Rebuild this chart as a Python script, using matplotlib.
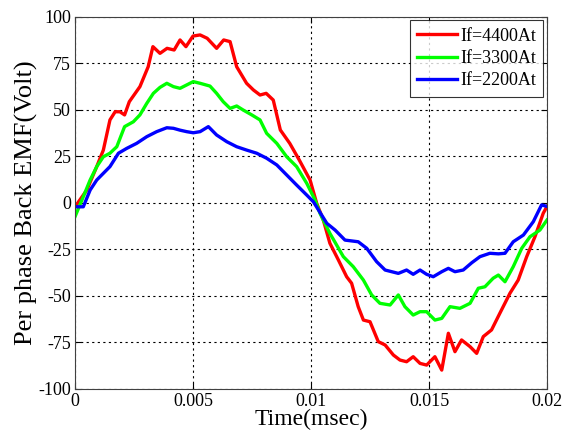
import matplotlib
matplotlib.use("Agg")
import matplotlib.pyplot as plt

plt.rcParams['font.family'] = ['Liberation Serif', 'DejaVu Serif']
plt.rcParams['axes.unicode_minus'] = False

t_4400 = [0.0, 0.0005, 0.00092, 0.0012, 0.00148, 0.0017, 0.0019, 0.0021, 0.0023, 0.00275,
          0.0031, 0.0033, 0.0036, 0.0039, 0.0042, 0.00445, 0.0047, 0.0050, 0.0053, 0.0056,
          0.0060, 0.0063, 0.00657, 0.00685, 0.00727, 0.00756, 0.00784, 0.0081, 0.0084, 0.0087,
          0.0091, 0.0095, 0.00996, 0.01024, 0.01052, 0.0108, 0.01116, 0.01151, 0.01172, 0.0120,
          0.01222, 0.0125, 0.01285, 0.01314, 0.01349, 0.01377, 0.01405, 0.01433, 0.01462, 0.0149,
          0.01525, 0.01554, 0.01582, 0.0161, 0.01638, 0.01674, 0.01702, 0.0173, 0.01765, 0.0180,
          0.01843, 0.01878, 0.01914, 0.01949, 0.01984, 0.0200]
v_4400 = [-2.2, 6.8, 19.4, 28.3, 44.5, 48.9, 48.9, 47.2, 54.3, 62.4,
          73.1, 83.9, 80.3, 83.0, 82.1, 87.5, 83.9, 89.6, 90.2, 88.4,
          83.0, 87.5, 86.6, 73.1, 64.2, 60.6, 57.9, 58.8, 55.2, 39.1,
          31.9, 23.0, 12.2, -0.3, -9.3, -21.8, -30.8, -39.8, -43.3, -55.9,
          -63.1, -64.0, -74.7, -76.5, -81.9, -84.6, -85.5, -82.8, -86.4, -87.3,
          -82.8, -90.0, -70.2, -80.1, -73.8, -77.4, -81.0, -72.0, -68.4, -59.5,
          -48.7, -41.6, -29.0, -18.3, -5.7, -2.0]

t_3300 = [0.0, 0.00035, 0.00064, 0.00092, 0.0012, 0.00148, 0.00177, 0.0021, 0.00247, 0.00275,
          0.00304, 0.00332, 0.0036, 0.00389, 0.00417, 0.00445, 0.00473, 0.00501, 0.0053, 0.00572,
          0.0060, 0.00628, 0.00657, 0.00685, 0.00713, 0.00749, 0.00784, 0.00812, 0.00855, 0.00897,
          0.00939, 0.00982, 0.01017, 0.01038, 0.0108, 0.01137, 0.01179, 0.01222, 0.01257, 0.01292,
          0.01335, 0.0137, 0.01398, 0.01433, 0.01462, 0.0149, 0.01525, 0.01554, 0.01589, 0.01631,
          0.01674, 0.01709, 0.01737, 0.01772, 0.01794, 0.01822, 0.01857, 0.01893, 0.01928, 0.0197,
          0.0200]
v_3300 = [-7.5, 3.2, 12.2, 19.4, 24.7, 26.6, 30.1, 40.9, 43.5, 47.2,
          53.4, 58.8, 62.0, 64.2, 62.4, 61.5, 63.3, 65.1, 64.2, 62.7,
          58.8, 54.3, 50.7, 52.0, 49.8, 47.2, 44.5, 37.3, 31.9, 24.7,
          19.4, 10.4, 1.5, -5.7, -16.5, -29.0, -34.4, -41.6, -49.6, -54.1,
          -55.0, -49.6, -55.9, -60.4, -58.6, -58.6, -63.1, -62.2, -55.9, -56.8,
          -54.1, -46.0, -45.2, -40.6, -38.9, -42.5, -34.4, -24.5, -18.3, -14.7,
          -9.3]

t_2200 = [0.0, 0.00035, 0.00064, 0.00092, 0.0012, 0.00148, 0.00184, 0.00219, 0.00261, 0.00304,
          0.00346, 0.00389, 0.00417, 0.00445, 0.00473, 0.00501, 0.0053, 0.00565, 0.0060, 0.00643,
          0.00685, 0.00727, 0.0077, 0.00812, 0.00855, 0.00897, 0.00939, 0.00982, 0.0101, 0.01067,
          0.01102, 0.01144, 0.0120, 0.01236, 0.01278, 0.01314, 0.0137, 0.01405, 0.01433, 0.01462,
          0.0149, 0.01518, 0.01554, 0.01582, 0.0161, 0.01645, 0.01681, 0.01716, 0.01758, 0.01794,
          0.01822, 0.01857, 0.0190, 0.01942, 0.01977, 0.0200]
v_2200 = [-2.2, -2.2, 6.8, 12.2, 15.8, 19.4, 26.6, 29.2, 31.9, 35.5,
          38.2, 40.3, 40.0, 39.0, 38.2, 37.6, 38.2, 40.9, 36.4, 32.8,
          30.1, 28.3, 26.6, 23.9, 20.3, 14.9, 9.5, 4.1, 0.5, -11.1,
          -14.7, -20.1, -21.0, -24.5, -31.7, -36.2, -38.0, -36.2, -38.5, -36.2,
          -38.5, -39.8, -37.1, -35.3, -37.1, -36.2, -32.3, -29.0, -27.2, -27.5,
          -27.2, -21.0, -17.4, -10.2, -1.2, -2.0]

labels = ['If=4400At', 'If=3300At', 'If=2200At']
colors = ['#ff0000', '#00ff00', '#0000ff']
x_ticks = [0, 0.005, 0.01, 0.015, 0.02]
x_ticklabels = ['0', '0.005', '0.01', '0.015', '0.02']
y_ticks = [-100, -75, -50, -25, 0, 25, 50, 75, 100]

fig = plt.figure(figsize=(5.62, 4.34), dpi=100)
ax = fig.add_axes([0.1335, 0.1044, 0.9733 - 0.1335, 0.9615 - 0.1044])

for t, v, lab, c in zip([t_4400, t_3300, t_2200], [v_4400, v_3300, v_2200], labels, colors):
    ax.plot(t, v, color=c, lw=2.4, label=lab)

ax.set_xlim(0, 0.02)
ax.set_ylim(-100, 100)
ax.set_xticks(x_ticks)
ax.set_xticklabels(x_ticklabels)
ax.set_yticks(y_ticks)
ax.tick_params(direction='in', top=True, right=True, labelsize=13, length=4, width=0.8, pad=3)
ax.grid(True, color='black', linestyle=(0, (2, 3)), linewidth=0.8)
for s in ax.spines.values():
    s.set_color('#404040')
    s.set_linewidth(0.8)

ax.set_xlabel('Time(msec)', fontsize=17, labelpad=-1)
ax.set_ylabel('Per phase Back EMF(Volt)', fontsize=19, labelpad=0)

leg = ax.legend(loc='upper right', fontsize=13, frameon=True, fancybox=False,
                borderaxespad=0.2, handlelength=2.2, handletextpad=0.2,
                labelspacing=0.3, borderpad=0.4)
leg.get_frame().set_edgecolor('black')
leg.get_frame().set_linewidth(0.8)

fig.savefig('out.png', dpi=100)
